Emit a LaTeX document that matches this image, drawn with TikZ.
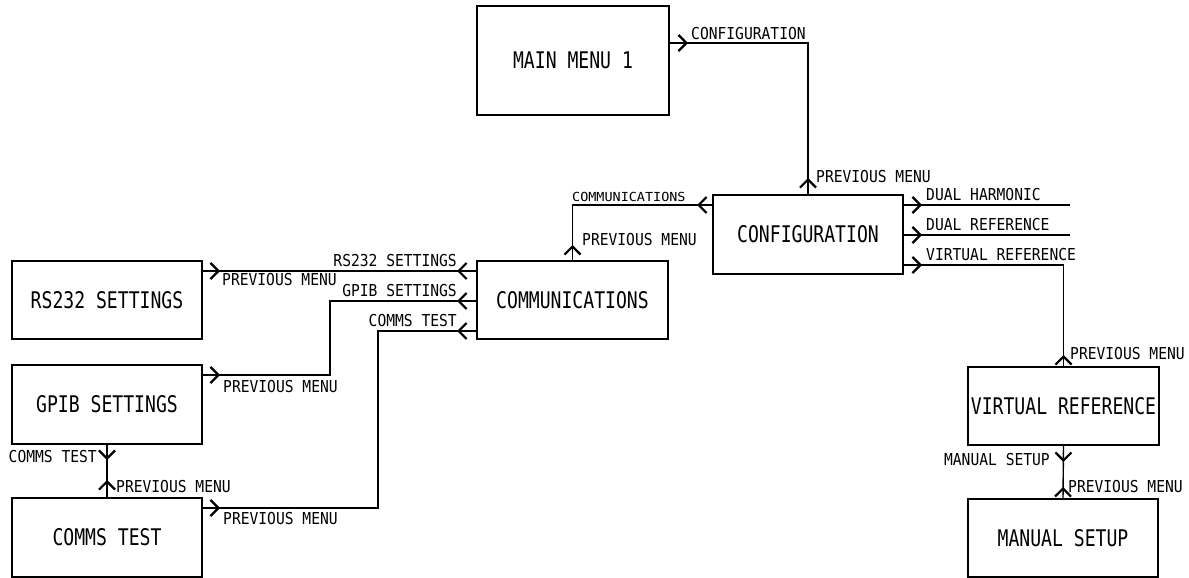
\documentclass[tikz,border=0pt]{standalone}
\usepackage{fontspec}
\usepackage{tikz}
\usetikzlibrary{positioning,decorations.markings,arrows.meta}

\newfontfamily\boxfont{DejaVu Sans Mono}[FakeStretch=0.79]
\newfontfamily\lblfont{DejaVu Sans Mono}[FakeStretch=0.89]
\newfontfamily\smlfont{DejaVu Sans Mono}[FakeStretch=1.08]

\tikzset{
  menubox/.style={draw, line width=1.4bp, inner sep=0pt, outer sep=0pt,
    minimum width=191bp, minimum height=78bp,
    font=\boxfont\fontsize{23}{23}\selectfont},
  lbl/.style={inner sep=0pt, font=\lblfont\fontsize{16.5}{16.5}\selectfont},
  smllbl/.style={inner sep=0pt, font=\smlfont\fontsize{12.5}{12.5}\selectfont},
  chev/.tip={Straight Barb[length=8bp, width=16bp, line width=2.2bp]},
  link/.style={line width=1.4bp},
  % arrow leaving the first node and arrow leaving the second node
  twoway/.style 2 args={link, postaction={decorate, decoration={markings,
    mark=at position #1 with {\arrow{chev}},
    mark=at position #2 with {\arrowreversed{chev}}}}},
  oneway/.style={link, postaction={decorate, decoration={markings,
    mark=at position #1 with {\arrow{chev}}}}}
}

\begin{document}
\begin{tikzpicture}[x=1bp, y=-1bp]
  \useasboundingbox (0,0) rectangle (1189,578);

  % Menu boxes
  \node[menubox, minimum width=192bp, minimum height=109bp] (main) at (573,60.5) {MAIN MENU 1};
  \node[menubox, minimum width=190bp, minimum height=79bp] (config) at (808,234.5) {CONFIGURATION};
  \node[menubox] (comms) at (572.5,300) {COMMUNICATIONS};
  \node[menubox, minimum width=190bp] (rs232) at (107,300) {RS232 SETTINGS};
  \node[menubox, minimum width=190bp, minimum height=79bp] (gpib) at (107,404.5) {GPIB SETTINGS};
  \node[menubox, minimum width=190bp, minimum height=79bp] (commstest) at (107,537.5) {COMMS TEST};
  \node[menubox] (vref) at (1063.5,406) {VIRTUAL REFERENCE};
  \node[menubox, minimum width=190bp] (msetup) at (1063,538) {MANUAL SETUP};

  % Free ends
  \coordinate (dharm) at (1070,205);
  \coordinate (dref) at (1070,235);

  % Connectors
  \draw[twoway={19bp}{-17bp}] (main.east |- 0,43) -| (config.north);
  \draw[twoway={16bp}{-16bp}] (config.west |- 0,205) -| (comms.north);
  \draw[oneway=19bp] (config.east |- 0,205) -- (dharm);
  \draw[oneway=19bp] (config.east |- 0,235) -- (dref);
  \draw[twoway={19bp}{-12bp}] (config.east |- 0,265) -| (vref.north);
  \draw[twoway={20bp}{-18bp}] (comms.west |- 0,271) -- (rs232.east |- 0,271);
  \draw[twoway={20bp}{-18bp}] (comms.west |- 0,301) -| (330,375) -- (gpib.east |- 0,375);
  \draw[twoway={20bp}{-18bp}] (comms.west |- 0,331) -| (378,508) -- (commstest.east |- 0,508);
  \draw[twoway={16bp}{-18bp}] (gpib.south) -- (commstest.north);
  \draw[twoway={17bp}{-12bp}] (vref.south) -- (msetup.north);

  % Labels
  \node[lbl, anchor=base west] (lconfig) at (691,40) {CONFIGURATION};
  \node[lbl, anchor=base west] (lprevconfig) at (816,183) {PREVIOUS MENU};
  \node[smllbl, anchor=base west] (lcomms) at (572,202) {COMMUNICATIONS};
  \node[lbl, anchor=base west] (lprevcomms) at (582,246) {PREVIOUS MENU};
  \node[lbl, anchor=base west] (ldharm) at (926,201) {DUAL HARMONIC};
  \node[lbl, anchor=base west] (ldref) at (926,231) {DUAL REFERENCE};
  \node[lbl, anchor=base west] (lvref) at (926,261) {VIRTUAL REFERENCE};
  \node[lbl, anchor=base east] (lrs232) at (457,267) {RS232 SETTINGS};
  \node[lbl, anchor=base east] (lgpib) at (457,297) {GPIB SETTINGS};
  \node[lbl, anchor=base east] (lcommstest) at (457,327) {COMMS TEST};
  \node[lbl, anchor=base west] (lprevrs232) at (222,286) {PREVIOUS MENU};
  \node[lbl, anchor=base west] (lprevgpib) at (223,392) {PREVIOUS MENU};
  \node[lbl, anchor=base west] (lprevtest) at (223,524) {PREVIOUS MENU};
  \node[lbl, anchor=base east] (ltestdown) at (97,462) {COMMS TEST};
  \node[lbl, anchor=base west] (lprevtestup) at (116,492) {PREVIOUS MENU};
  \node[lbl, anchor=base west] (lprevvref) at (1070,359) {PREVIOUS MENU};
  \node[lbl, anchor=base east] (lmsetup) at (1050,465) {MANUAL SETUP};
  \node[lbl, anchor=base west] (lprevmsetup) at (1068,492) {PREVIOUS MENU};
\end{tikzpicture}
\end{document}
